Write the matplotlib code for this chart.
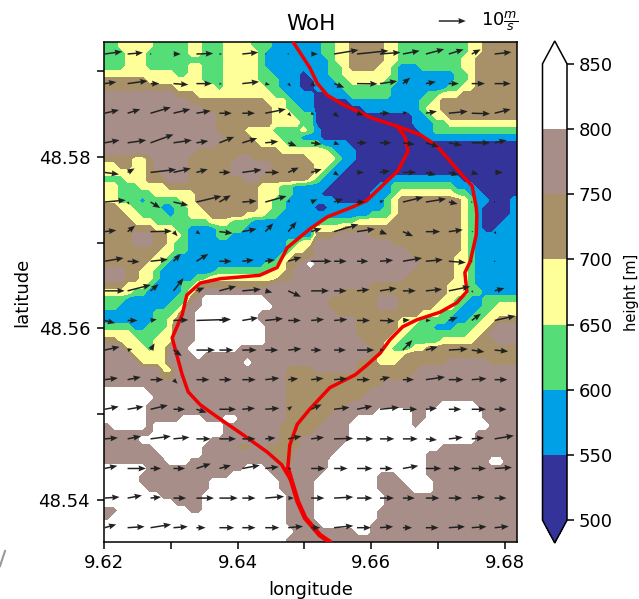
import numpy as np
import matplotlib
matplotlib.use('Agg')
import matplotlib.pyplot as plt
from matplotlib.colors import ListedColormap, BoundaryNorm
from matplotlib.lines import Line2D

# height bands on a coarse grid, 0 = 500-550 ... 6 = 800-850, north to south
codes_west = [
    "223333322222332223333222111111", "222333222222332223333321111111", "222333222222222223333321111111",
    "222333222222332223333321111111", "333333333322332223333322111101", "444444333333332223333322211100",
    "444444444433333323333332211100", "555555555544433333333333221111", "555555555555444444444443332111",
    "555555555555554444444444332211", "555555555555555544444444333222", "555555555555555544444444333322",
    "555555555555555544443333222232", "555555555555555554444333322211", "555555555555555544444433332222",
    "555555555555544444444444433333", "444433455555444444455444444443", "334433455555444444555555444444",
    "333333445555444444555554444444", "222333444555444444445544444443", "332223333444444444444433322111",
    "332222233333344444444433322111", "332221222223344444444433221111", "443322221122334444444433221111",
    "444332222122333444443332211111", "444433322222222333222111111111", "444444433322111122221111111111",
    "444455544332111122111111111111", "444455544322111111111111112233", "444444443322111111111111112334",
    "444444433211111111111111123444", "444444332111111111111112234456", "555443321111111122222222334555",
    "555443321111122333333333344555", "444333211112234444444444555555", "333322111112345555555555555555",
    "222111111122456666666665555555", "221111111223556666666666555555", "111111122235566666666655555555",
    "111111122345566666666655555555", "222211222355566666666665555555", "333322223355566666666665555555",
    "443332233355566666666665555555", "555333233555666666655555555555", "555533333555565555555555555555",
    "555553333555555555556555555555", "555555553355555555555555554444", "555555554455555555555555554444",
    "555555555555555555555555554444", "666666555555555555555555554444", "666666655555555555555555554444",
    "666666555555555555555555554444", "666666555555555555555555554444", "666666555556665556655555554444",
    "566666566666666665555555544444", "555555566666666665555555544444", "555556666666666555555555544455",
    "555555566666665555544554444455", "555555556666665555555555444555", "555555555666555555555555544555",
    "666666555555555555556665555555", "666665555555555555666666555555", "666665555555555666666666655555",
    "666666555555555666666666655555", "666666665555556666666666665555", "666666666655556666666666665555",
    "556666666666556666666666665555", "566666666666666666666666665555", "666666666666666666666666665555",
    "666666666666666666666666666555", "666666666666666666666666665555",
]
codes_east = [
    "12233444443322222222223344444", "12233444443322222222223344444", "11233444443322222222233444444",
    "11223444433211122222233444444", "11223333333211111111223444444", "11122333332211111111223444444",
    "11112222222111111112233444444", "00111222222111112233344444444", "00000111111111122344444444444",
    "00000001111111123344444444444", "00000000000000112334444444444", "00000000000000111223333333333",
    "10000000000000011222222222222", "10000000000000001111111111111", "21111000000000000000000000000",
    "33211100000000000000000000000", "33321100000000000000000000000", "33211000000000000000000000000",
    "32110000000000000000000000000", "21100000000111111111100000000", "11000000011222222222111000000",
    "10000000111233333333221100000", "11100000112344444444432110001", "00111111112344444444432100001",
    "11111111222344444444432100001", "12222233333444444444432100011", "33334444444444444444432100111",
    "44455555444444444444432111111", "55555555555444444444432111111", "55555555555554444444432111111",
    "55555555555555444444332111111", "55555555555555544444332111111", "55555555555555444444332111111",
    "55555555555554444444332111111", "55555555444444444443332111111", "55554444444444444443332211111",
    "55444444455544444433221122222", "55444444455544444333211122333", "55544444444444433322111223333",
    "55555544444433322221112233444", "55555544444433222111222334555", "55555544444332222222223345555",
    "55555554443322222233333444555", "55555555443222334444444444444", "55555555433334444444444444444",
    "55555544433344444445555554444", "55555544444444455555555555555", "44444444444444555555555555555",
    "44444444445555555555555555555", "44444444555555555555555555555", "44444445555555555555555555555",
    "44444555555555555566666555555", "44455555566666556666666655555", "44555566666666556666666655555",
    "45555666666666566666666665555", "55555666666666666666666555555", "55555666666666666666666555555",
    "55556666666666666655555555555", "55566666666666665555555555555", "55666666666666665555555556655",
    "55666666666666665555555555555", "56666666655566665555555555555", "66666666655556666555555555555",
    "66666666655555666555555555555", "66666666665555555555555555555", "66666666665555555555555555555",
    "66666666655555555555555555555", "66666666655555555555555555555", "56666666555555555555555555555",
    "55555566555555555555555555555", "55555555555555555555555555555",
]
band_mid = [525, 575, 625, 675, 725, 775, 825]
levels = [500, 550, 600, 650, 700, 750, 800, 850]
band_colors = ['#333399', '#00A0E6', '#55DD77', '#FFFF99', '#A89068', '#A88E88', '#FFFFFF']

# wind in m/s, rows north to south
wind_u = [
    [6.5, 5.7, 0.5, 2.7, 6.2, 1.0, 5.9, 0.6, 0.4, 2.5, 9.0, 11.6, 7.6, 6.2, 6.8, 5.5, 3.3, 6.2],
    [4.3, 7.4, 3.3, 5.5, 5.7, 1.0, 6.2, 1.7, 1.0, 1.8, 3.8, 7.6, 6.4, 2.7, 3.7, 3.7, 4.9, 5.9],
    [5.3, 4.7, 7.5, 6.2, 5.3, 4.6, 4.7, 7.6, 1.2, 1.2, 1.8, 2.5, 3.7, 1.7, 4.1, 7.0, 6.8, 5.9],
    [5.5, 6.9, 8.5, 6.8, 4.4, 5.5, 5.5, 4.8, 3.1, 3.9, 2.0, 3.7, 4.2, 4.4, 4.9, 4.9, 6.8, 4.4],
    [5.3, 2.6, 9.5, 6.4, 4.2, 4.2, 7.1, 5.2, 3.9, 3.9, 1.8, 2.5, 3.7, 4.9, 3.7, 3.7, 2.5, 3.0],
    [7.8, 0.7, 3.6, 5.5, 9.3, 4.2, 5.3, 7.9, 0.7, 2.3, 3.4, 3.0, 1.5, 7.5, 7.5, 3.3, 0.3, 0.2],
    [4.3, 2.8, 7.9, 1.5, 1.5, 4.9, 5.3, 3.0, 3.1, 3.9, 9.0, 6.6, 2.7, 3.8, 5.3, 5.2, 0.6, 0.6],
    [7.0, 4.4, 6.4, 2.7, 4.4, 4.6, 4.3, 3.6, 4.9, 7.6, 4.7, 4.2, 4.9, 7.1, 6.3, 6.3, 0.1, 0.3],
    [7.4, 8.6, 3.0, 3.7, 3.0, 6.2, 6.9, 2.6, 4.7, 6.6, 4.7, 4.6, 6.2, 4.8, 6.0, 7.9, 0.6, 3.6],
    [3.9, 3.7, 2.3, 5.5, 12.8, 3.7, 5.9, 6.6, 4.7, 4.8, 4.9, 4.8, 5.5, 2.6, 1.8, 3.3, 3.4, 7.7],
    [5.5, 1.8, 1.5, 3.1, 6.9, 5.2, 5.3, 4.8, 4.9, 3.9, 4.4, 6.4, 1.5, 3.5, 4.4, 7.0, 4.7, 5.0],
    [4.9, 4.9, 4.8, 1.5, 4.8, 4.6, 5.0, 5.2, 3.7, 4.6, 4.9, 4.8, 3.7, 4.1, 7.1, 5.4, 5.5, 4.7],
    [5.2, 5.9, 6.4, 4.3, 3.8, 6.2, 4.7, 5.2, 1.5, 3.9, 5.7, 5.7, 7.1, 5.3, 4.1, 4.6, 5.3, 4.4],
    [4.9, 4.9, 7.5, 5.9, 5.3, 6.2, 4.9, 3.8, 4.9, 4.8, 7.1, 6.0, 5.3, 5.5, 4.1, 5.2, 4.6, 7.1],
    [4.7, 6.8, 3.9, 4.3, 5.3, 4.3, 6.5, 5.0, 1.2, 5.2, 5.0, 5.7, 4.7, 5.7, 5.7, 4.6, 5.3, 6.4],
    [5.5, 5.3, 3.9, 4.7, 6.5, 6.8, 4.9, 7.0, 2.1, 4.9, 7.1, 5.7, 5.2, 4.4, 5.0, 5.0, 4.9, 4.4],
    [4.3, 6.3, 7.6, 5.3, 3.4, 5.5, 4.9, 5.2, 5.5, 3.4, 7.1, 5.2, 4.9, 3.4, 4.7, 6.0, 5.5, 5.2],
]
wind_v = [
    [0.9, 0.5, 0, 0, 0.2, 0, 0.6, 0, -0.3, 0, 1.5, 1.2, 0.6, 1.2, 1.8, 1.7, 1.7, 0.7],
    [0.6, 1.0, 0, -0.4, 0, -0.2, 0.7, -0.5, -1.0, -1.0, -1.5, -0.1, 0.9, 2.2, 0.7, 0, 0, 0],
    [1.2, 1.5, 2.2, 1.5, 0.9, 0, 0, 1.5, -1.2, -0.6, -1.5, -0.7, 0, 0.4, 0.7, 0.7, -0.2, 1.5],
    [1.0, 1.0, 3.1, 1.0, 0.7, 2.2, 1.7, 0.5, -1.2, -0.5, -0.7, 0, 0, -0.6, -1.5, -0.9, 0, 1.0],
    [-0.7, 1.5, 1.1, 1.5, 1.2, 0, 1.0, 0, 1.8, 1.2, -1.2, 0, 0.6, 0, -1.0, -1.0, -0.7, 0],
    [0.7, -1.0, -2.2, -1.2, 2.2, 2.5, 0.4, 2.2, 1.0, 1.0, 1.2, 0, 0.6, 1.8, 1.2, -0.7, 0, 0],
    [0.5, 2.2, 0.2, -1.7, -1.0, -0.6, 1.0, 3.1, 3.7, 1.2, 2.7, 1.0, -1.0, -1.7, 0, 0.7, 0, -1.0],
    [1.2, -0.2, 0.7, 2.7, 2.7, 0, 0.5, 0.5, 1.5, 0, 0, 0, 0.4, 1.2, 0.6, -0.5, 0, 0.4],
    [0, 2.2, 2.5, 4.7, 1.2, 1.7, 0.6, -0.6, -2.2, 0, 0, 0.5, 1.0, 0, 0.6, 1.6, -0.7, 1.0],
    [-1.0, 0, 0.4, 0.2, 0.4, 0.4, 1.0, 0.7, 0, 0.4, 0.4, 0, -0.2, 0.2, 0, 1.2, 2.5, 1.7],
    [1.2, 0.4, 2.5, -2.2, 0, 0, 0, 0, 0.5, 0, 0, 0, 0, 3.7, 1.2, 0.4, -0.7, -0.5],
    [0.6, 1.0, 0, -1.5, 0, 0, 0, 0.6, 0.4, 0.5, 0.4, 0, 1.0, 0, 1.0, 0, 0.4, 0],
    [1.0, 1.0, 1.5, 0, -1.2, 0, 0.4, 0.4, 1.2, 1.8, 0.7, 1.2, 0.7, 0, 0.4, 0, 0, 0],
    [0.4, 1.0, 1.0, 0.6, 0, 0, 0, 0.4, 1.0, 0.6, 0.2, 0, 0, 0, -0.4, 0.6, 0.4, 1.2],
    [1.0, 0, 0, 0, 1.8, 1.2, 1.2, 0.6, 0, 0, 0, 0, 0, 1.0, 0, 0, 0, 0.4],
    [0.4, 1.0, 0.4, 0, 0, 0, 0, 0.6, 0, 0, 0.4, 0, 0, 0, 0, 0, 0.4, 0],
    [1.2, 0.4, 1.2, 0.4, 0, 0, 0, 0, 0.5, 0, 0.7, 0, 0.4, 0, 0, 0.4, 0.4, 0.5],
]

# river, main channel
main_lon = [9.6483, 9.6508, 9.6519, 9.6534, 9.6558, 9.6602, 9.6638, 9.6673, 9.6698, 9.6718, 9.6737,
            9.6751, 9.6757, 9.6758, 9.6757, 9.6748, 9.6740, 9.6743, 9.6728, 9.6703, 9.6668, 9.6647,
            9.6628, 9.6613, 9.6593, 9.6576, 9.6538, 9.6508, 9.6489, 9.6478, 9.6475]
main_lat = [48.5934, 48.5904, 48.5886, 48.5872, 48.5861, 48.5845, 48.5836, 48.5826, 48.5813, 48.5795, 48.5778,
            48.5766, 48.5741, 48.5732, 48.5709, 48.5678, 48.5665, 48.5643, 48.5630, 48.5619, 48.5610, 48.5602,
            48.5587, 48.5571, 48.5557, 48.5546, 48.5531, 48.5506, 48.5488, 48.5464, 48.5437]
# second channel, splits off and comes back
side_lon = [9.6638, 9.6650, 9.6655, 9.6640, 9.6593, 9.6573, 9.6534, 9.6508, 9.6474, 9.6459, 9.6433, 9.6374,
            9.6344, 9.6324, 9.6317, 9.6302, 9.6317, 9.6326, 9.6344, 9.6369, 9.6408, 9.6444, 9.6466, 9.6481]
side_lat = [48.5836, 48.5824, 48.5807, 48.5784, 48.5749, 48.5742, 48.5730, 48.5716, 48.5694, 48.5671, 48.5662, 48.5658,
            48.5653, 48.5639, 48.5616, 48.5589, 48.5546, 48.5526, 48.5511, 48.5497, 48.5476, 48.5456, 48.5441, 48.5421]
# downstream of the confluence
stem_lon = [9.6475, 9.6481, 9.6490, 9.6501, 9.6523, 9.6538]
stem_lat = [48.5437, 48.5421, 48.5398, 48.5379, 48.5359, 48.5351]

xlim = (9.62, 9.6818)
ylim = (48.5351, 48.5934)

codes = np.array([[int(ch) for ch in w + e] for w, e in zip(codes_west, codes_east)])
height = np.array(band_mid)[codes]
nrow, ncol = height.shape
dlon = (xlim[1] - xlim[0]) / ncol
dlat = (ylim[1] - ylim[0]) / nrow
lon = xlim[0] + (np.arange(-1, ncol + 1) + 0.5) * dlon
lat = ylim[1] - (np.arange(-1, nrow + 1) + 0.5) * dlat
height = np.pad(height, 1, mode='edge')

W, H = 639, 599
fig = plt.figure(figsize=(W / 100, H / 100), dpi=100)
ax = fig.add_axes([104 / W, 1 - 542 / H, 413 / W, 500 / H])
cax = fig.add_axes([542.5 / W, 1 - 543 / H, 24.5 / W, 502 / H])

cmap = ListedColormap(band_colors)
cmap.set_under(band_colors[0])
cmap.set_over(band_colors[-1])
norm = BoundaryNorm(levels, cmap.N)
cf = ax.contourf(lon, lat, height, levels=levels, cmap=cmap, norm=norm, extend='both')

ax.plot(main_lon, main_lat, color='#F00000', lw=2.5, solid_capstyle='round', solid_joinstyle='round', zorder=3)
ax.plot(side_lon, side_lat, color='#F00000', lw=2.5, solid_capstyle='round', solid_joinstyle='round', zorder=3)
ax.plot(stem_lon, stem_lat, color='#F00000', lw=3.5, solid_capstyle='round', solid_joinstyle='round', zorder=3)

# quiver grid, tails on these points
wind_lon = 9.6201 + np.arange(18) * 0.003433
wind_lat = 48.5920 - np.arange(17) * 0.003452
X, Y = np.meshgrid(wind_lon, wind_lat)
q = ax.quiver(X, Y, np.array(wind_u), np.array(wind_v), angles='uv', pivot='tail', color='#222222',
              units='dots', width=1.5, headwidth=4, headlength=5, headaxislength=4.5,
              scale_units='dots', scale=10 / 27, zorder=4)
ax.quiverkey(q, 0.876, 1.042, 10, r'$10\frac{m}{s}$', labelpos='E', coordinates='axes',
             labelsep=0.15, fontproperties={'size': 13})

ax.set_xlim(xlim)
ax.set_ylim(ylim)
ax.set_xticks([9.62, 9.63, 9.64, 9.65, 9.66, 9.67, 9.68])
ax.set_xticklabels(['9.62', '', '9.64', '', '9.66', '', '9.68'])
ax.set_yticks([48.54, 48.55, 48.56, 48.57, 48.58, 48.59])
ax.set_yticklabels(['48.54', '', '48.56', '', '48.58', ''])
ax.tick_params(labelsize=13, length=5, width=1.1)
ax.tick_params(axis='y', pad=5)
ax.set_xlabel('longitude', fontsize=13, labelpad=6.5)
ax.set_ylabel('latitude', fontsize=13, labelpad=5)
ax.set_title('WoH', fontsize=15.5, pad=9)
for s in ax.spines.values():
    s.set_linewidth(1.1)

cb = fig.colorbar(cf, cax=cax, ticks=levels)
cb.ax.tick_params(labelsize=13, length=5, width=1.1)
cb.set_label('height [m]', fontsize=10.5, labelpad=8)
cb.outline.set_linewidth(1.1)

# leftover stroke at the lower left edge of the picture
fig.add_artist(Line2D([0.0, 5 / W], [1 - 566 / H, 1 - 551 / H], color='#999999', lw=1.5))

fig.savefig('out.png', dpi=100)
